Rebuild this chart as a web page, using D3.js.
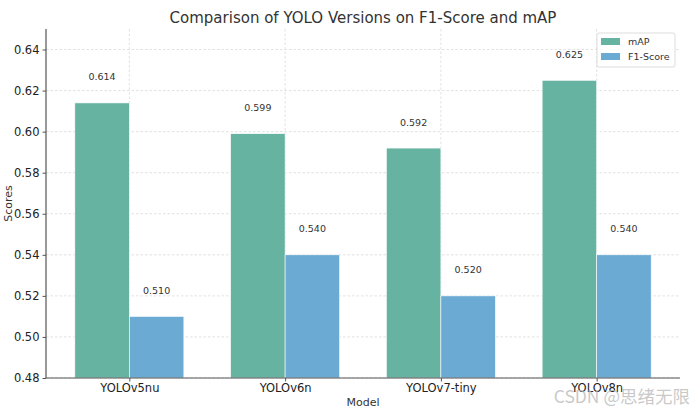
<!DOCTYPE html>
<html>
<head>
<meta charset="utf-8">
<script src="https://cdn.jsdelivr.net/npm/d3@7"></script>
<style>
  body { margin: 0; background: #fff; }
  svg { font-family: "DejaVu Sans", sans-serif; }
</style>
</head>
<body>
<div id="chart"></div>
<script>
const models = ["YOLOv5nu", "YOLOv6n", "YOLOv7-tiny", "YOLOv8n"];
const mapValues = [0.614, 0.599, 0.592, 0.625];
const f1Values = [0.510, 0.540, 0.520, 0.540];
const seriesNames = ["mAP", "F1-Score"];
const yTicks = [0.48, 0.50, 0.52, 0.54, 0.56, 0.58, 0.60, 0.62, 0.64];

var W = 693, H = 415;
var margin = { top: 29, right: 13, bottom: 37, left: 46 };
var width = W - margin.left - margin.right;
var height = H - margin.top - margin.bottom;
var colors = { "mAP": "#67b3a1", "F1-Score": "#6aaad3" };
var barW = 0.35;

// numeric x like matplotlib: index positions, with 5% margins
var xLo = -barW, xHi = models.length - 1 + barW;
var pad = (xHi - xLo) * 0.05;
var xScale = d3.scaleLinear().domain([xLo - pad, xHi + pad]).range([0, width]);
var yScale = d3.scaleLinear().domain([0.48, 0.65]).range([height, 0]);

var svg = d3.select("#chart").append("svg")
    .attr("width", W).attr("height", H);

var g = svg.append("g").attr("transform", `translate(${margin.left}, ${margin.top})`);

// grid
g.append("g").selectAll("line").data(yTicks).join("line")
    .attr("x1", 0).attr("x2", width)
    .attr("y1", d => yScale(d)).attr("y2", d => yScale(d))
    .attr("stroke", "#d9d9d9").attr("stroke-width", 0.8).attr("stroke-dasharray", "2.5,2");
g.append("g").selectAll("line").data(models).join("line")
    .attr("x1", (d, i) => xScale(i)).attr("x2", (d, i) => xScale(i))
    .attr("y1", 0).attr("y2", height)
    .attr("stroke", "#d9d9d9").attr("stroke-width", 0.8).attr("stroke-dasharray", "2.5,2");

var rows = models.map((m, i) => ({ i: i, vals: [mapValues[i], f1Values[i]] }));

var groups = g.append("g").selectAll("g").data(rows).join("g");
groups.selectAll("rect")
    .data(d => d.vals.map((v, k) => ({ i: d.i, k: k, v: v })))
    .join("rect")
    .attr("x", d => xScale(d.i + (d.k === 0 ? -barW : 0)))
    .attr("width", xScale(barW) - xScale(0))
    .attr("y", d => yScale(d.v))
    .attr("height", d => height - yScale(d.v))
    .attr("fill", d => colors[seriesNames[d.k]])
    .attr("stroke", "#fff").attr("stroke-width", 0.6);

groups.selectAll("text")
    .data(d => d.vals.map((v, k) => ({ i: d.i, k: k, v: v })))
    .join("text")
    .attr("x", d => xScale(d.i + (d.k === 0 ? -barW / 2 : barW / 2)))
    .attr("y", d => yScale(d.v + 0.01) - 2)
    .attr("text-anchor", "middle")
    .attr("font-size", 9.5)
    .attr("fill", "#333")
    .text(d => d.v.toFixed(3));

// axes
var yAxis = d3.axisLeft(yScale).tickValues(yTicks).tickFormat(d3.format(".2f")).tickSize(3.5).tickPadding(3);
var yAxisG = g.append("g").call(yAxis);
yAxisG.select(".domain").attr("d", `M0,0V${height}`);

var xAxis = d3.axisBottom(xScale).tickValues(d3.range(models.length)).tickFormat(i => models[i]).tickSize(3.5).tickPadding(2.5);
var xAxisG = g.append("g").attr("transform", `translate(0, ${height})`).call(xAxis);
xAxisG.select(".domain").attr("d", `M0,0H${width}`);

[yAxisG, xAxisG].forEach(a => {
  a.selectAll("text").attr("font-size", 11.5).attr("fill", "#222").attr("font-family", "DejaVu Sans");
  a.selectAll(".domain").attr("stroke", "#555").attr("stroke-width", 1.2);
  a.selectAll(".tick line").attr("stroke", "#555");
});

// labels
svg.append("text")
    .attr("x", margin.left + width / 2).attr("y", 23)
    .attr("text-anchor", "middle").attr("font-size", 15).attr("fill", "#333")
    .text("Comparison of YOLO Versions on F1-Score and mAP");
svg.append("text")
    .attr("x", margin.left + width / 2).attr("y", 406)
    .attr("text-anchor", "middle").attr("font-size", 11).attr("fill", "#333")
    .text("Model");
svg.append("text")
    .attr("transform", `translate(12, ${margin.top + height / 2}) rotate(-90)`)
    .attr("text-anchor", "middle").attr("font-size", 11).attr("fill", "#333")
    .text("Scores");

// legend
var leg = g.append("g").attr("transform", `translate(${width - 83}, 4)`);
leg.append("rect").attr("width", 78).attr("height", 34).attr("rx", 2)
    .attr("fill", "#fff").attr("fill-opacity", 0.85).attr("stroke", "#ddd");
seriesNames.forEach((s, k) => {
  leg.append("rect").attr("x", 4).attr("y", 5 + k * 15).attr("width", 19).attr("height", 7).attr("fill", colors[s]);
  leg.append("text").attr("x", 31).attr("y", 12 + k * 15).attr("font-size", 9.5).attr("fill", "#333").text(s);
});

// watermark
svg.append("text")
    .attr("x", 690).attr("y", 403)
    .attr("text-anchor", "end").attr("font-size", 17.5)
    .attr("font-family", "'Noto Sans CJK SC', 'DejaVu Sans', sans-serif")
    .attr("fill", "#bbb").attr("fill-opacity", 0.8)
    .text("CSDN @思绪无限");
</script>
</body>
</html>
